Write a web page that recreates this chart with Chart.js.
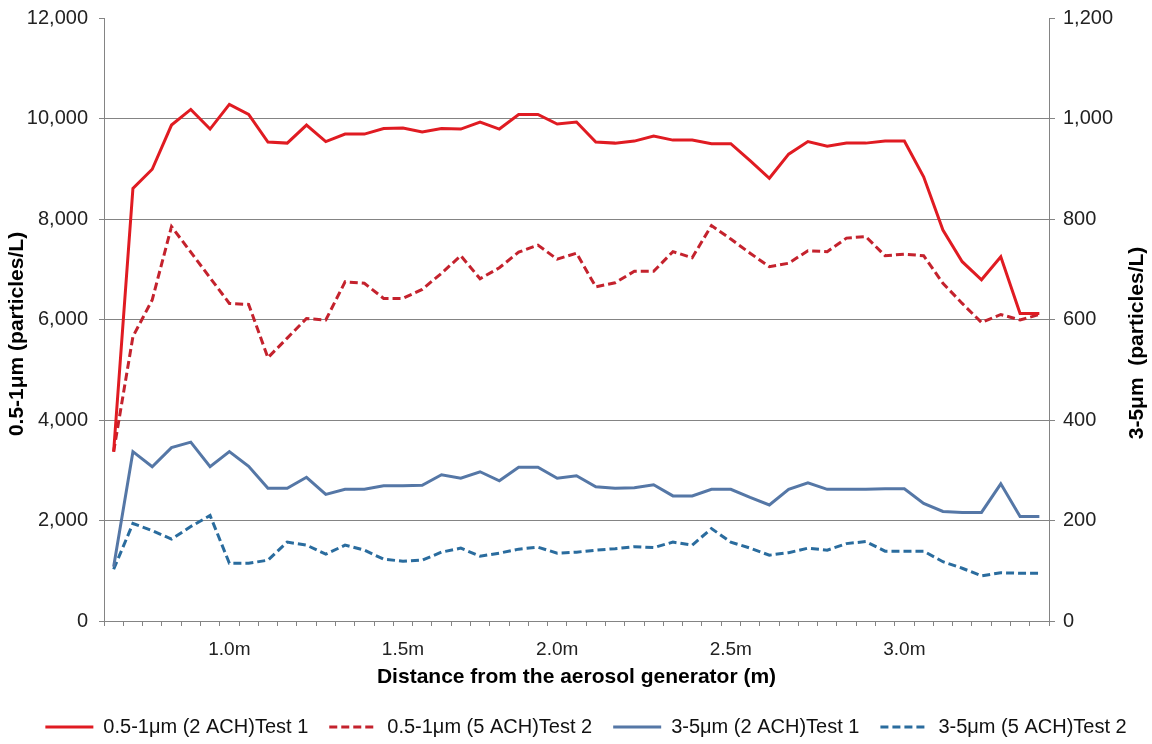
<!DOCTYPE html>
<html>
<head>
<meta charset="utf-8">
<script src="https://cdn.jsdelivr.net/npm/chart.js@4.4.1/dist/chart.umd.min.js"></script>
<style>
  html, body { margin: 0; padding: 0; background: #fff; overflow: hidden; }
  #wrap { width: 1152px; height: 747px; }
</style>
</head>
<body>
<div id="wrap"><canvas id="chart" width="1152" height="747"></canvas></div>
<script>
// Measurement positions along the room; only some carry a printed label
const distanceLabels = [
  '', '', '', '', '', '', '1.0m', '', '', '', '', '', '', '', '', '1.5m', '', '',
  '', '', '', '', '', '2.0m', '', '', '', '', '', '', '', '', '2.5m', '', '', '',
  '', '', '', '', '', '3.0m', '', '', '', '', '', '', ''
];

// 0.5-1 µm counts (particles/L), left axis
const fine2AchTest1 = [
  3370, 8610, 8990, 9870, 10180, 9790, 10280, 10080, 9530, 9510, 9870, 9540,
  9690, 9690, 9800, 9810, 9730, 9800, 9790, 9930, 9790, 10080, 10080, 9890,
  9930, 9530, 9510, 9550, 9650, 9570, 9570, 9500, 9500, 9160, 8810, 9290,
  9540, 9450, 9510, 9510, 9550, 9550, 8840, 7780, 7150, 6790, 7250, 6120, 6120
];
const fine5AchTest2 = [
  3370, 5660, 6390, 7850, 7340, 6830, 6320, 6300, 5240, 5630, 6020, 5990,
  6750, 6720, 6420, 6420, 6600, 6920, 7270, 6810, 7030, 7340, 7480, 7200,
  7320, 6650, 6730, 6960, 6960, 7350, 7230, 7870, 7600, 7320, 7050, 7120,
  7370, 7350, 7620, 7650, 7270, 7300, 7270, 6720, 6320, 5940, 6100, 5990, 6100
];

// 3-5 µm counts (particles/L), right axis
const coarse2AchTest1 = [
  108, 337, 307, 345, 356, 307, 337, 308, 264, 264, 286, 252,
  262, 262, 269, 269, 270, 291, 284, 297, 279, 306, 306, 284,
  289, 267, 264, 265, 271, 249, 249, 262, 262, 246, 231, 262,
  275, 262, 262, 262, 263, 263, 234, 218, 216, 216, 273, 208, 208
];
const coarse5AchTest2 = [
  103, 194, 180, 163, 188, 210, 115, 115, 121, 157, 151, 133,
  151, 141, 123, 119, 121, 137, 145, 129, 135, 143, 147, 135,
  137, 141, 144, 148, 146, 157, 151, 184, 157, 145, 131, 136,
  145, 141, 154, 158, 139, 139, 139, 118, 105, 90, 96, 95, 95
];

const seriesNames = [
  '0.5-1μm (2 ACH)Test 1',
  '0.5-1μm (5 ACH)Test 2',
  '3-5μm (2 ACH)Test 1',
  '3-5μm (5 ACH)Test 2'
];

const leftTitle = '0.5-1μm (particles/L)';
const rightTitle = '3-5μm  (particles/L)';
const xTitle = 'Distance from the aerosol generator (m)';

const FONT = "'Liberation Sans', Arial, sans-serif";
const AXIS_GREY = '#848484';

// Both value-axis titles, rotated to read bottom to top
const axisTitlesPlugin = {
  id: 'axisTitles',
  afterLayout(chart) {
    // nudge the legend row a little to the right
    if (chart.legend) {
      chart.legend.left += 10;
      chart.legend.right += 10;
    }
  },
  afterDraw(chart) {
    const ctx = chart.ctx;
    const drawRotated = (text, x, y) => {
      ctx.save();
      ctx.translate(x, y);
      ctx.rotate(-Math.PI / 2);
      ctx.font = "bold 21px " + FONT;
      ctx.fillStyle = '#000';
      ctx.textAlign = 'center';
      ctx.textBaseline = 'middle';
      ctx.fillText(text, 0, 0);
      ctx.restore();
    };
    drawRotated(leftTitle, 17, 334);
    drawRotated(rightTitle, 1137, 343);
  }
};

const fmt = v => Number(v).toLocaleString('en-US');

const legendLabels = chart => {
  const items = Chart.defaults.plugins.legend.labels.generateLabels(chart);
  items.forEach(item => {
    const ds = chart.data.datasets[item.datasetIndex];
    item.lineDash = ds.borderDash || [];
    item.strokeStyle = ds.borderColor;
    item.lineWidth = ds.borderWidth;
  });
  return items;
};

new Chart(document.getElementById('chart'), {
  type: 'line',
  data: {
    labels: distanceLabels,
    datasets: [
      { label: seriesNames[0], data: fine2AchTest1, yAxisID: 'yL',
        borderColor: '#E01B22', backgroundColor: '#E01B22', borderWidth: 3 },
      { label: seriesNames[1], data: fine5AchTest2, yAxisID: 'yL',
        borderColor: '#C4222D', backgroundColor: '#C4222D', borderWidth: 3, borderDash: [8, 4] },
      { label: seriesNames[2], data: coarse2AchTest1, yAxisID: 'yR',
        borderColor: '#5577A6', backgroundColor: '#5577A6', borderWidth: 3 },
      { label: seriesNames[3], data: coarse5AchTest2, yAxisID: 'yR',
        borderColor: '#2A6C9E', backgroundColor: '#2A6C9E', borderWidth: 3, borderDash: [8, 4] }
    ]
  },
  options: {
    responsive: false,
    animation: false,
    devicePixelRatio: 1,
    layout: { padding: { top: 18, left: 0, right: 0, bottom: 0 } },
    elements: {
      point: { radius: 0, hoverRadius: 0 },
      line: { tension: 0, borderCapStyle: 'butt', borderJoinStyle: 'miter' }
    },
    plugins: {
      tooltip: { enabled: false },
      legend: {
        position: 'bottom',
        labels: {
          usePointStyle: true,
          pointStyle: 'line',
          pointStyleWidth: 48,
          padding: 21,
          color: '#111',
          font: { family: FONT, size: 20 },
          generateLabels: legendLabels
        }
      }
    },
    scales: {
      x: {
        type: 'category',
        offset: true,
        border: { color: AXIS_GREY, width: 1 },
        grid: { offset: true, drawOnChartArea: false, drawTicks: true, tickLength: 5,
                tickColor: AXIS_GREY },
        ticks: { autoSkip: false, maxRotation: 0, minRotation: 0, padding: 12,
                 color: '#222', font: { family: FONT, size: 19 } },
        title: { display: true, text: xTitle, color: '#000',
                 padding: { top: 0, bottom: 6 },
                 font: { family: FONT, size: 21, weight: 'bold' } },
        afterFit(scale) { scale.height = 75; }
      },
      yL: {
        position: 'left',
        min: 0, max: 12000,
        border: { color: AXIS_GREY, width: 1 },
        grid: {
          color: ctx => (ctx.tick && ctx.tick.value === 12000) ? 'rgba(0,0,0,0)' : AXIS_GREY,
          tickColor: AXIS_GREY,
          lineWidth: 1, drawTicks: true, tickLength: 5
        },
        ticks: { stepSize: 2000, padding: 11, color: '#222',
                 font: { family: FONT, size: 20 }, callback: v => fmt(v) },
        afterFit(scale) { scale.width = 104; scale.paddingTop = 10; scale.paddingBottom = 10; }
      },
      yR: {
        position: 'right',
        min: 0, max: 1200,
        border: { color: AXIS_GREY, width: 1 },
        grid: { drawOnChartArea: false, drawTicks: true, tickLength: 6, tickColor: AXIS_GREY },
        ticks: { stepSize: 200, padding: 8, color: '#222',
                 font: { family: FONT, size: 20 }, callback: v => fmt(v) },
        afterFit(scale) { scale.width = 103; scale.paddingTop = 10; scale.paddingBottom = 10; }
      }
    }
  },
  plugins: [axisTitlesPlugin]
});
</script>
</body>
</html>
